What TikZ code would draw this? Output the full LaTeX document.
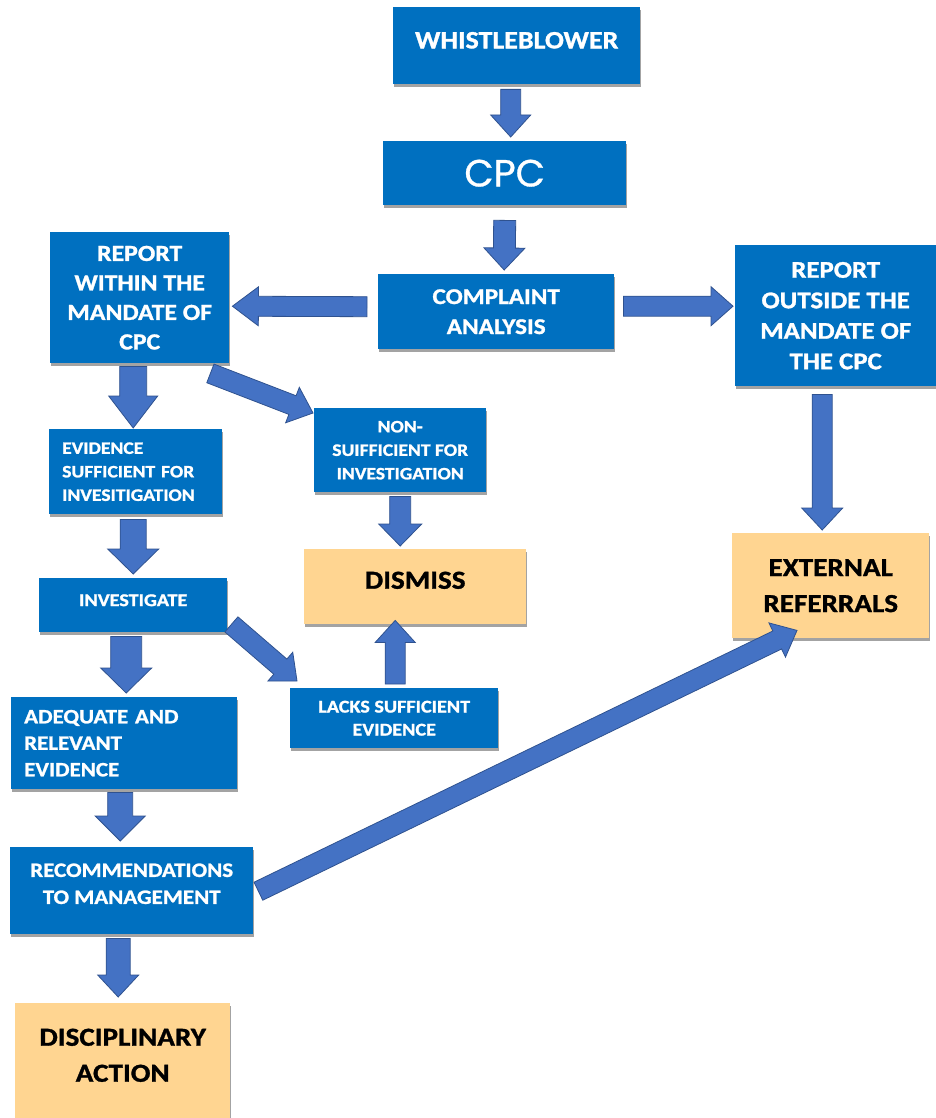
\documentclass[tikz,border=0pt]{standalone}
\usepackage{fontspec}
\setmainfont{Carlito}[FakeStretch=1.12, BoldFeatures={FakeBold=1.2}]
\newfontfamily\cpcfont{Poppins}[FakeBold=0.8]
\usetikzlibrary{calc,shadows}
\definecolor{boxblue}{HTML}{0070C0}
\definecolor{arrfill}{HTML}{4472C4}
\definecolor{arrline}{HTML}{2F528F}
\definecolor{peach}{HTML}{FFD591}
\newcommand{\fs}[2]{\fontsize{#1}{#2}\selectfont\bfseries}
% block arrow: start, end, shaft half width, head half width, head length
\newcommand{\blockarrow}[5]{%
  \coordinate (baA) at #1;
  \coordinate (baB) at #2;
  \coordinate (baH) at ($(baB)!#5!(baA)$);
  \filldraw[fill=arrfill, draw=arrline, line width=0.8pt, line join=miter]
    ($(baA)!#3!90:(baB)$) -- ($(baH)!#3!90:(baB)$) -- ($(baH)!#4!90:(baB)$)
    -- (baB) -- ($(baH)!#4!-90:(baB)$) -- ($(baH)!#3!-90:(baB)$)
    -- ($(baA)!#3!-90:(baB)$) -- cycle;
}
\tikzset{
  box/.style={anchor=north west, inner sep=0pt, align=center,
    drop shadow={shadow xshift=0.5pt, shadow yshift=-2.5pt, fill=black!45, opacity=0.8}},
  bluebox/.style={box, fill=boxblue, text=white},
  peachbox/.style={box, fill=peach, text=black},
}
\begin{document}
\begin{tikzpicture}[x=1pt,y=-1pt]
\useasboundingbox[fill=white] (0,0) rectangle (936,1118);

\node[bluebox, minimum width=247pt, minimum height=77pt, text depth=11pt, font=\fs{25}{30}] (wb) at (393,7) {WHISTLEBLOWER};
\node[bluebox, minimum width=243pt, minimum height=64pt, font={\cpcfont\fontsize{38}{40}\selectfont}] (cpc) at (383,141) {CPC};
\node[bluebox, minimum width=236pt, minimum height=75pt, font=\fs{22.5}{30}] (ca) at (378,274) {COMPLAINT\\ANALYSIS};
\node[bluebox, minimum width=179pt, minimum height=131pt, font=\fs{23}{29.5}] (rw) at (50,232) {REPORT\\WITHIN THE\\MANDATE OF\\CPC};
\node[bluebox, minimum width=201pt, minimum height=141pt, font=\fs{24}{30.5}] (ro) at (735,245) {REPORT\\OUTSIDE THE\\MANDATE OF\\THE CPC};
\node[bluebox, minimum height=85pt, inner xsep=13pt, text width=147pt, align=left, font=\fs{17.5}{23.5}] (ev) at (49,429) {EVIDENCE\\SUFFICIENT FOR\\INVESITIGATION};
\node[bluebox, minimum width=172pt, minimum height=84pt, font=\fs{17.5}{23.5}] (ns) at (314,408) {NON-\\SUIFFICIENT FOR\\INVESTIGATION};
\node[peachbox, minimum width=222pt, minimum height=75pt, text depth=13pt, font=\fs{26}{34}] (dis) at (304,549) {DISMISS};
\node[peachbox, minimum width=197pt, minimum height=105pt, font=\fs{26}{36}] (ext) at (732,533) {EXTERNAL\\REFERRALS};
\node[bluebox, minimum width=188pt, minimum height=54pt, text depth=10pt, font=\fs{18}{23}] (inv) at (39,578) {INVESTIGATE};
\node[bluebox, minimum width=208pt, minimum height=60pt, font=\fs{18}{23}] (lack) at (290,688) {LACKS SUFFICIENT\\EVIDENCE};
\node[bluebox, minimum height=92pt, inner xsep=13pt, text width=200pt, align=left, font=\fs{20.5}{26.5}] (ade) at (11,697) {ADEQUATE AND\\RELEVANT\\EVIDENCE};
\node[bluebox, minimum width=243pt, minimum height=87pt, text depth=14pt, font=\fs{20.5}{27}] (rec) at (10,847) {RECOMMENDATIONS\\TO MANAGEMENT};
\node[peachbox, minimum width=215pt, minimum height=115pt, text depth=11pt, font=\fs{26}{36}] (dsc) at (15,1003) {DISCIPLINARY\\ACTION};

\blockarrow{($(wb.south)+(-6,5)$)}{($(cpc.north)+(6,-4)$)}{10pt}{20pt}{22pt}
\blockarrow{($(cpc.south)+(0,15)$)}{($(ca.north)+(8,-4)$)}{11pt}{20.5pt}{22pt}
\blockarrow{($(ca.west)+(-11,-5)$)}{($(rw.east)+(3,8.5)$)}{10pt}{19.5pt}{26pt}
\blockarrow{($(ca.east)+(9,-5.5)$)}{($(ro.west)+(-2,-9.5)$)}{10pt}{19.5pt}{22pt}
\blockarrow{($(rw.south)+(-6.5,3)$)}{($(ev.north)+(-2.5,-1)$)}{13.5pt}{24.5pt}{32pt}
\blockarrow{($(rw.south east)+(-19,10)$)}{($(ns.north west)+(-1,5)$)}{10pt}{19pt}{22pt}
\blockarrow{($(ro.south)+(-13.5,8)$)}{($(ext.north)+(-8.5,-3)$)}{10pt}{20.5pt}{22pt}
\blockarrow{($(ns.south)+(0,4)$)}{($(dis.north)+(-15,-3)$)}{10.5pt}{21.5pt}{22pt}
\blockarrow{($(ev.south)+(-2.5,5)$)}{($(inv.north)+(0,-4)$)}{13pt}{25.5pt}{25pt}
\blockarrow{($(inv.south)+(-7,4)$)}{($(ade.north)+(2,-4)$)}{15.5pt}{25.5pt}{25pt}
\blockarrow{($(inv.south east)+(4,-8)$)}{($(lack.north west)+(7,-7)$)}{10pt}{19pt}{22pt}
\blockarrow{($(lack.north)+(1,-4)$)}{($(dis.south)+(-20,-4)$)}{10pt}{20pt}{22pt}
\blockarrow{($(ade.south)+(-4,3)$)}{($(rec.north)+(-11.5,-6)$)}{12.5pt}{25pt}{25pt}
\blockarrow{($(rec.east)+(5,0.5)$)}{($(ext.south west)+(65,-8)$)}{10pt}{19pt}{22pt}
\blockarrow{($(rec.south)+(-13.5,4)$)}{($(dsc.north)+(-4.5,-6)$)}{12pt}{20.5pt}{22pt}
\end{tikzpicture}
\end{document}
